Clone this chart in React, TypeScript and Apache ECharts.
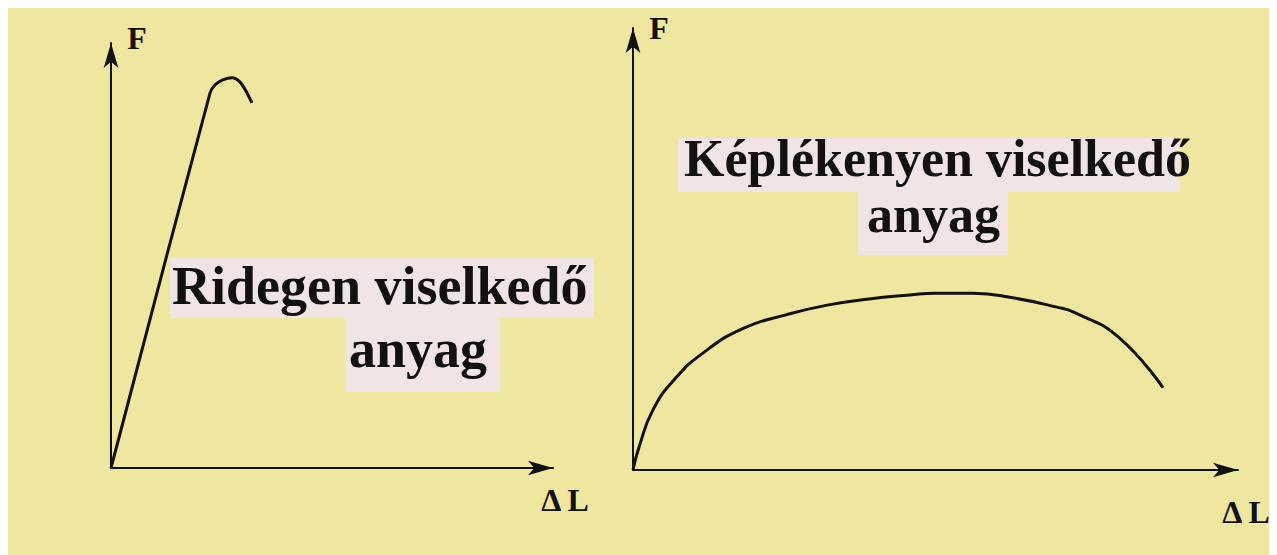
import React, { useEffect, useRef } from "react";
import * as echarts from "echarts";

// Left: brittle material (ΔL, F) in relative units
const brittleX = [0, 22.4, 23.5, 25.3, 27.4, 29.2, 30.8, 31.9];
const brittleF = [0, 88.2, 90.1, 91.3, 91.8, 90.8, 88.2, 85.9];

// Right: ductile material
const ductileX = [0, 1.0, 3.3, 6.8, 11.6, 18.3, 25.3, 32.1, 39.0, 45.8, 49.9, 56.2, 63.0, 69.9, 73.2, 80.2, 87.6];
const ductileF = [0, 5.2, 13.6, 20.4, 26.5, 32.1, 35.1, 37.3, 38.7, 39.6, 40.0, 40.0, 38.9, 36.9, 35.5, 30.1, 18.6];

const axisLabelsY = ["F", "F"];
const axisLabelsX = ["Δ L", "Δ L"];
const brittleTitle = ["Ridegen viselkedő", "anyag"];
const ductileTitle = ["Képlékenyen viselkedő", "anyag"];

const INK = "#111111";
const BG = "#EFE7A0";
const HL = "#F1E4E4";
const SERIF = "'Liberation Serif', 'DejaVu Serif', serif";

function axisPair(gridIndex: number) {
  const line = {
    show: true,
    onZero: false,
    symbol: ["none", "arrow"],
    symbolSize: [11, 25],
    lineStyle: { color: INK, width: 2 },
  };
  const common = {
    type: "value" as const,
    gridIndex,
    min: 0,
    max: 100,
    axisLine: line,
    axisTick: { show: false },
    axisLabel: { show: false },
    splitLine: { show: false },
  };
  return { x: { ...common }, y: { ...common } };
}

export default function App() {
  const ref = useRef<HTMLDivElement>(null);
  useEffect(() => {
    if (!ref.current) return;
    const chart = echarts.init(ref.current, null, { renderer: "svg" });
    const a0 = axisPair(0);
    const a1 = axisPair(1);
    const txt = (x: number, y: number, text: string, size: number, align = "left") => ({
      type: "text",
      x,
      y,
      style: {
        text,
        fill: INK,
        font: `bold ${size}px ${SERIF}`,
        align,
        verticalAlign: "middle",
      },
    });
    chart.setOption({
      animation: false,
      backgroundColor: BG,
      grid: [
        { left: 103, top: 35, width: 442, height: 425, containLabel: false },
        { left: 625, top: 20, width: 605, height: 442, containLabel: false },
      ],
      xAxis: [a0.x, a1.x],
      yAxis: [a0.y, a1.y],
      series: [
        {
          type: "line",
          xAxisIndex: 0,
          yAxisIndex: 0,
          data: brittleX.map((v, i) => [v, brittleF[i]]),
          showSymbol: false,
          smooth: 0.3,
          lineStyle: { color: INK, width: 3 },
          z: 3,
        },
        {
          type: "line",
          xAxisIndex: 1,
          yAxisIndex: 1,
          data: ductileX.map((v, i) => [v, ductileF[i]]),
          showSymbol: false,
          smooth: true,
          lineStyle: { color: INK, width: 3 },
          z: 3,
        },
      ],
      graphic: [
        { type: "rect", shape: { x: 162, y: 250, width: 424, height: 60 }, style: { fill: HL }, z: 0 },
        { type: "rect", shape: { x: 337, y: 310, width: 155, height: 74 }, style: { fill: HL }, z: 0 },
        { type: "rect", shape: { x: 670, y: 130, width: 502, height: 54 }, style: { fill: HL }, z: 0 },
        { type: "rect", shape: { x: 850, y: 184, width: 150, height: 63 }, style: { fill: HL }, z: 0 },
        txt(164, 278, brittleTitle[0], 54),
        txt(341, 341, brittleTitle[1], 54),
        txt(676, 150, ductileTitle[0], 52),
        txt(859, 206, ductileTitle[1], 52),
        txt(129, 30, axisLabelsY[0], 32, "center"),
        txt(651, 20, axisLabelsY[1], 32, "center"),
        txt(557, 492, axisLabelsX[0], 32, "center"),
        txt(1238, 504, axisLabelsX[1], 32, "center"),
      ],
    });
    return () => chart.dispose();
  }, []);
  return <div ref={ref} style={{ width: 1269, height: 547 }} />;
}
